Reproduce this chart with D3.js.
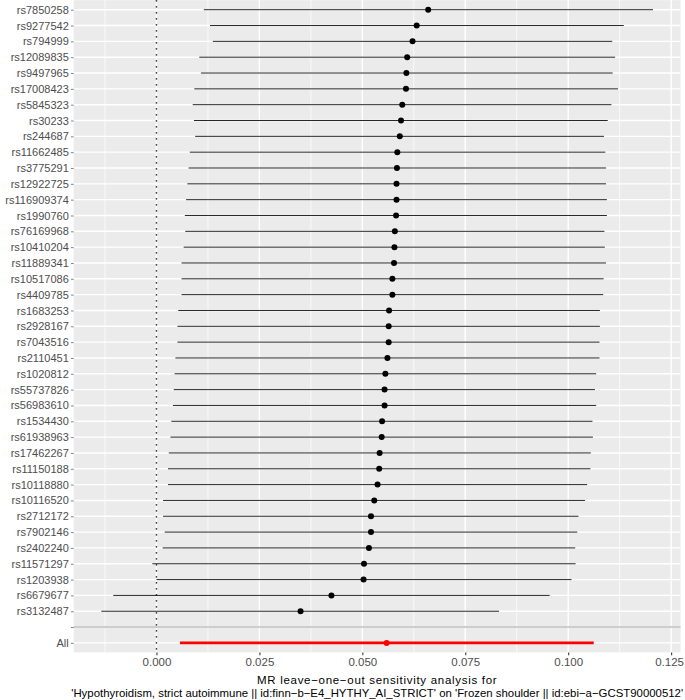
<!DOCTYPE html>
<html>
<head>
<meta charset="utf-8">
<script src="https://cdn.jsdelivr.net/npm/d3@7"></script>
<style>
  html, body { margin: 0; padding: 0; background: #ffffff; }
  svg { display: block; }
  text { font-family: "Liberation Sans", Arial, sans-serif; }
</style>
</head>
<body>
<svg id="chart" width="685" height="700"></svg>
<script>
const snps = ["rs7850258","rs9277542","rs794999","rs12089835","rs9497965","rs17008423","rs5845323","rs30233","rs244687","rs11662485","rs3775291","rs12922725","rs116909374","rs1990760","rs76169968","rs10410204","rs11889341","rs10517086","rs4409785","rs1683253","rs2928167","rs7043516","rs2110451","rs1020812","rs55737826","rs56983610","rs1534430","rs61938963","rs17462267","rs11150188","rs10118880","rs10116520","rs2712172","rs7902146","rs2402240","rs11571297","rs1203938","rs6679677","rs3132487"];
const snpB  = [0.0660,0.0632,0.0622,0.0609,0.0607,0.0606,0.0597,0.0594,0.0591,0.0585,0.0584,0.0583,0.0583,0.0582,0.0579,0.0578,0.0577,0.0573,0.0573,0.0565,0.0564,0.0564,0.0561,0.0556,0.0554,0.0554,0.0548,0.0547,0.0542,0.0541,0.0537,0.0529,0.0521,0.0521,0.0516,0.0504,0.0503,0.0425,0.0350];
const snpLo = [0.0115,0.0130,0.0137,0.0104,0.0108,0.0092,0.0088,0.0091,0.0094,0.0081,0.0078,0.0075,0.0072,0.0069,0.0070,0.0066,0.0061,0.0061,0.0061,0.0053,0.0051,0.0051,0.0046,0.0044,0.0042,0.0040,0.0036,0.0034,0.0030,0.0028,0.0028,0.0016,0.0016,0.0020,0.0015,-0.0010,0.0000,-0.0105,-0.0134];
const snpUp = [0.1206,0.1135,0.1107,0.1114,0.1108,0.1121,0.1105,0.1096,0.1087,0.1090,0.1092,0.1092,0.1094,0.1094,0.1088,0.1089,0.1092,0.1086,0.1085,0.1077,0.1077,0.1076,0.1076,0.1068,0.1065,0.1068,0.1059,0.1060,0.1055,0.1054,0.1046,0.1041,0.1025,0.1022,0.1017,0.1018,0.1008,0.0955,0.0832];
const allLabel = "All";
const allB = 0.0559, allLo = 0.0057, allUp = 0.1062;
const xTicks = [0, 0.025, 0.05, 0.075, 0.1, 0.125];
const xMinor = [-0.0125, 0.0125, 0.0375, 0.0625, 0.0875, 0.1125];
const titleLine1 = "MR leave\u2212one\u2212out sensitivity analysis for";
const titleLine2 = "'Hypothyroidism, strict autoimmune || id:finn\u2212b\u2212E4_HYTHY_AI_STRICT' on 'Frozen shoulder || id:ebi\u2212a\u2212GCST90000512'";

const categories = snps.concat(["", allLabel]);
const rows = snps.map((s, i) => ({snp: s, b: snpB[i], lo: snpLo[i], up: snpUp[i], tot: false}));
rows.push({snp: allLabel, b: allB, lo: allLo, up: allUp, tot: true});

const W = 685, H = 700;
const panel = {left: 73.7, right: 680.6, top: 0.2, bottom: 652.4};

const allVals = rows.flatMap(d => [d.lo, d.up, d.b]);
const dmin = d3.min(allVals), dmax = d3.max(allVals), dr = dmax - dmin;
const x = d3.scaleLinear().domain([dmin - 0.05 * dr, dmax + 0.05 * dr]).range([panel.left, panel.right]);
const y = d3.scalePoint().domain(categories).range([panel.top, panel.bottom]).padding(0.6);

const svg = d3.select("#chart");
svg.append("rect").attr("width", W).attr("height", H).attr("fill", "#ffffff");
const g = svg.append("g");

g.append("rect").attr("x", panel.left).attr("y", panel.top)
  .attr("width", panel.right - panel.left).attr("height", panel.bottom - panel.top)
  .attr("fill", "#EBEBEB");

// minor vertical grid
g.selectAll(".minor").data(xMinor.filter(v => x(v) >= panel.left && x(v) <= panel.right)).enter()
  .append("line").attr("x1", d => x(d)).attr("x2", d => x(d))
  .attr("y1", panel.top).attr("y2", panel.bottom)
  .attr("stroke", "#ffffff").attr("stroke-width", 0.7);
// major vertical grid
g.selectAll(".majorx").data(xTicks).enter()
  .append("line").attr("x1", d => x(d)).attr("x2", d => x(d))
  .attr("y1", panel.top).attr("y2", panel.bottom)
  .attr("stroke", "#ffffff").attr("stroke-width", 1.4);
// major horizontal grid
g.selectAll(".majory").data(categories).enter()
  .append("line").attr("x1", panel.left).attr("x2", panel.right)
  .attr("y1", d => y(d)).attr("y2", d => y(d))
  .attr("stroke", "#ffffff").attr("stroke-width", 1.4);

// dotted zero line
g.append("line").attr("x1", x(0)).attr("x2", x(0))
  .attr("y1", panel.top).attr("y2", panel.bottom)
  .attr("stroke", "#000000").attr("stroke-width", 1.4)
  .attr("stroke-dasharray", "1.4,4.6");

// error bars
g.selectAll(".err").data(rows).enter()
  .append("line")
  .attr("x1", d => x(d.lo)).attr("x2", d => x(d.up))
  .attr("y1", d => y(d.snp)).attr("y2", d => y(d.snp))
  .attr("stroke", d => d.tot ? "#FF0000" : "#000000")
  .attr("stroke-width", d => d.tot ? 2.85 : 0.85);

// points
g.selectAll(".pt").data(rows).enter()
  .append("circle")
  .attr("cx", d => x(d.b)).attr("cy", d => y(d.snp)).attr("r", 3)
  .attr("fill", d => d.tot ? "#FF0000" : "#000000");

// separator line
g.append("line").attr("x1", panel.left).attr("x2", panel.right)
  .attr("y1", y("")).attr("y2", y(""))
  .attr("stroke", "#BEBEBE").attr("stroke-width", 1.4);

// y axis
const yAxis = d3.axisLeft(y).tickSize(2.75).tickPadding(2.2);
const ya = svg.append("g").attr("transform", `translate(${panel.left},0)`).call(yAxis);
ya.select(".domain").remove();
ya.selectAll(".tick line").attr("stroke", "#333333").attr("stroke-width", 0.6);
ya.selectAll(".tick text").attr("fill", "#4D4D4D").style("font-size", "11px")
  .style("font-family", "'Liberation Sans Narrow','Arial Narrow','Liberation Sans',sans-serif");

// x axis
const xAxis = d3.axisBottom(x).tickValues(xTicks).tickFormat(d3.format(".3f")).tickSize(2.75).tickPadding(2.2);
const xa = svg.append("g").attr("transform", `translate(0,${panel.bottom})`).call(xAxis);
xa.select(".domain").remove();
xa.selectAll(".tick line").attr("stroke", "#333333").attr("stroke-width", 1.07);
xa.selectAll(".tick text").attr("fill", "#4D4D4D").style("font-size", "11.5px");
// keep the last tick label inside the canvas
xa.selectAll(".tick text").each(function() {
  const bb = this.getBoundingClientRect();
  if (bb.right > W - 1) d3.select(this).attr("dx", (W - 1 - bb.right) + "px");
});

// title
const cx = (panel.left + panel.right) / 2;
svg.append("text").attr("x", cx).attr("y", 684).attr("text-anchor", "middle")
  .attr("fill", "#000000").style("font-size", "11.5px").style("letter-spacing", "0.7px").text(titleLine1);
svg.append("text").attr("x", cx).attr("y", 697).attr("text-anchor", "middle")
  .attr("fill", "#000000").style("font-size", "11.4px").text(titleLine2);
</script>
</body>
</html>
